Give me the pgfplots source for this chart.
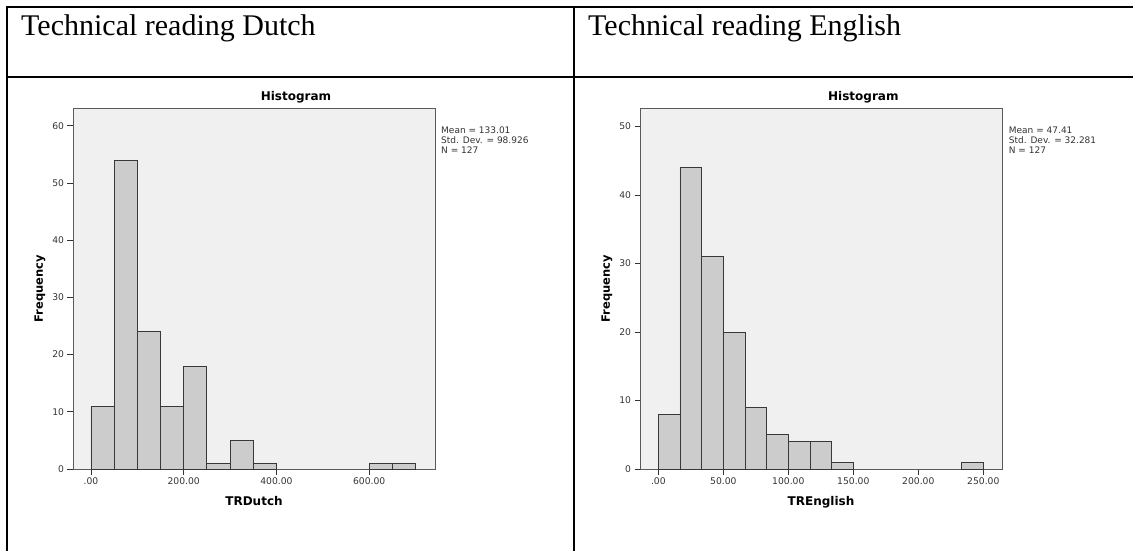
\documentclass[border=0pt]{standalone}
\usepackage{fontspec}
\setmainfont{Liberation Serif}
\newfontfamily\spss{DejaVu Sans}
\usepackage{pgfplots}
\pgfplotsset{compat=1.18}
\definecolor{barfill}{HTML}{CCCCCC}
\definecolor{baredge}{HTML}{383838}
\definecolor{plotbg}{HTML}{F0F0F0}
\definecolor{axisline}{HTML}{5A5A5A}
\definecolor{labelgray}{HTML}{333333}
\pgfplotsset{
  spssaxis/.style={
    scale only axis, width=362pt, height=361pt, anchor=south west,
    axis background/.style={fill=plotbg},
    axis line style={draw=axisline, line width=0.9pt},
    tick align=outside, xtick pos=bottom, ytick pos=left,
    major tick length=5.5pt,
    every tick/.style={draw=black!80, line width=0.8pt},
    tick label style={font=\spss\fontsize{9.2}{10}\selectfont, text=labelgray},
    ymin=0,
    clip=false,
    every axis y label/.style={at={(axis description cs:-0.0912,0.5)}, rotate=90, anchor=center, font=\spss\bfseries\fontsize{11.5}{14}\selectfont},
    every axis x label/.style={at={(axis description cs:0.5,0)}, anchor=base, yshift=-36.7pt, font=\spss\bfseries\fontsize{12}{14}\selectfont},
    ylabel={Frequency},
  },
  bars/.style={ybar interval, fill=barfill, draw=baredge, line width=0.9pt},
}
\tikzset{
  stat/.style={anchor=base west, inner sep=0pt, font=\spss\fontsize{9}{10}\selectfont, text=labelgray},
  htitle/.style={anchor=base, inner sep=0pt, font=\spss\bfseries\fontsize{12}{14}\selectfont},
}
\begin{document}
\begin{tikzpicture}
\path[use as bounding box] (0pt,0pt) rectangle (1133pt,550pt);
% table lines
\draw[line width=2pt] (7pt,544pt) -- (7pt,-1pt);
\draw[line width=2pt] (574pt,544pt) -- (574pt,-1pt);
\draw[line width=2pt] (6pt,543pt) -- (1134pt,543pt);
\draw[line width=2pt] (6pt,473pt) -- (1134pt,473pt);
\node[anchor=base west, inner sep=0pt, font=\fontsize{30}{36}\selectfont] at (21pt,514pt) {Technical reading Dutch};
\node[anchor=base west, inner sep=0pt, font=\fontsize{30}{36}\selectfont] at (588pt,514pt) {Technical reading English};

% Left histogram
\begin{axis}[spssaxis, at={(73pt,81pt)},
  xmin=-38.8, xmax=742, ymax=63.1,
  xtick={0,200,400,600}, xticklabels={.00,200.00,400.00,600.00},
  ytick={0,10,20,30,40,50,60}, yticklabels={0,10,20,30,40,50,60},
  xlabel={TRDutch},
]
\addplot[bars] coordinates {(0,11) (50,54) (100,24) (150,11) (200,18) (250,1) (300,5) (350,1) (400,0)};
\addplot[bars] coordinates {(600,1) (650,1) (700,0)};
\node[htitle] at (rel axis cs:0.616,1) [yshift=7pt] {Histogram};
\node[stat] at (rel axis cs:1,1) [xshift=6pt, yshift=-25.3pt] {Mean = 133.01};
\node[stat] at (rel axis cs:1,1) [xshift=6pt, yshift=-35.3pt] {Std. Dev. = 98.926};
\node[stat] at (rel axis cs:1,1) [xshift=6pt, yshift=-45.3pt] {N = 127};
\end{axis}

% Right histogram
\begin{axis}[spssaxis, at={(640pt,81pt)},
  xmin=-14.1, xmax=264.4, ymax=52.7,
  xtick={0,50,100,150,200,250}, xticklabels={.00,50.00,100.00,150.00,200.00,250.00},
  ytick={0,10,20,30,40,50}, yticklabels={0,10,20,30,40,50},
  xlabel={TREnglish},
]
\addplot[bars] coordinates {(0,8) (16.6667,44) (33.3333,31) (50,20) (66.6667,9) (83.3333,5) (100,4) (116.6667,4) (133.3333,1) (150,0)};
\addplot[bars] coordinates {(233.3333,1) (250,0)};
\node[htitle] at (rel axis cs:0.617,1) [yshift=7pt] {Histogram};
\node[stat] at (rel axis cs:1,1) [xshift=6.7pt, yshift=-25.3pt] {Mean = 47.41};
\node[stat] at (rel axis cs:1,1) [xshift=6.7pt, yshift=-35.3pt] {Std. Dev. = 32.281};
\node[stat] at (rel axis cs:1,1) [xshift=6.7pt, yshift=-45.3pt] {N = 127};
\end{axis}
\end{tikzpicture}
\end{document}
